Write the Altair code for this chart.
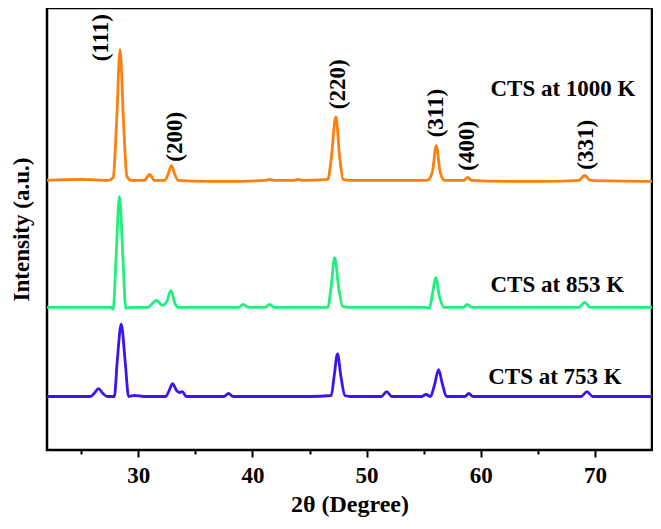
import altair as alt
import pandas as pd

# ---- data (2theta in degrees, relative intensity) ----
x_1000 = [22.0, 25.0, 27.4, 27.8, 28.1, 28.4, 28.7, 29.0, 29.4, 30.5, 31.0, 31.4, 32.3, 32.6, 32.9, 33.2, 33.5,
          36.0, 38.0, 41.1, 41.5, 41.9, 43.6, 44.0, 44.4, 46.6, 46.9, 47.3, 47.65, 47.95, 48.5, 52.0, 55.3, 55.75,
          56.1, 56.45, 56.85, 58.5, 58.85, 59.2, 62.0, 66.0, 68.6, 69.1, 69.6, 75.0]
i_1000 = [0, 1, 0, 3, 60, 132, 60, 4, 0, 0, 6, 0, 0, 6, 15, 6, 0,
          -1, -1, 0, 1, 0, 0, 1, 0, 1, 22, 64, 22, 1, 0, 0, 0, 8,
          35, 8, 0, 0, 3, 0, -1, -1, 0, 5, 0, -1]

x_853 = [22.0, 26.0, 27.6, 27.8, 28.05, 28.35, 28.65, 28.9, 29.3, 30.8, 31.6, 32.1, 32.5, 32.85, 33.2, 33.5,
         36.0, 38.8, 39.2, 39.6, 41.1, 41.5, 41.9, 44.0, 46.6, 46.9, 47.2, 47.55, 47.9, 48.5, 55.2, 55.5, 55.75,
         56.05, 56.4, 56.8, 58.5, 58.8, 59.2, 63.0, 68.6, 69.1, 69.6, 75.0]
i_853 = [0, 0, 0, -2, 50, 112, 50, -1, 0, 0, 7, 2, 6, 17, 4, 0,
         0, 0, 3, 0, 0, 3, 0, 0, 0, 22, 50, 20, 1, 0, 0, -1, 12,
         30, 10, 0, 0, 3, 0, 0, 0, 5, 0, 0]

x_753 = [22.0, 25.8, 26.2, 26.5, 26.9, 27.3, 27.9, 28.15, 28.5, 28.85, 29.15, 29.6, 30.5, 32.4, 32.7, 33.0, 33.35,
         33.6, 33.85, 34.2, 37.5, 37.9, 38.3, 45.0, 46.9, 47.15, 47.45, 47.75, 48.1, 48.6, 51.3, 51.75, 52.2,
         54.8, 55.2, 55.6, 55.95, 56.3, 56.65, 57.0, 58.6, 58.95, 59.3, 68.8, 69.3, 69.8, 75.0]
i_753 = [0, 0, 4, 8, 3, 0, 0, 35, 73, 35, 0, 1, 0, 0, 6, 13, 6,
         4, 5, 0, 0, 3, 0, 0, 1, 20, 43, 20, 1, 0, 0, 5, 0,
         0, 2, 0, 12, 27, 12, 0, 0, 3, 0, 0, 5, 0, 0]

samples = ["CTS at 1000 K", "CTS at 853 K", "CTS at 753 K"]
offsets = [272, 144, 54]
colors = ["#FF7F0E", "#1EF07A", "#3A14F2"]

# sample name label positions
name_x = [67.2, 66.7, 66.5]
name_y = [364, 166, 74]

# Miller index labels
hkl = ["(111)", "(200)", "(220)", "(311)", "(400)", "(331)"]
hkl_x = [26.75, 33.2, 47.45, 56.1, 58.8, 69.2]
hkl_y = [416, 316, 369, 340, 307, 308]

x_ticks = [25, 30, 35, 40, 45, 50, 55, 60, 65, 70]

# ---- build tables ----
rows = []
for name, off, xs, ys in zip(samples, offsets, [x_1000, x_853, x_753], [i_1000, i_853, i_753]):
    for k, (a, b) in enumerate(zip(xs, ys)):
        rows.append({"sample": name, "tt": a, "I": b + off, "order": k})
df = pd.DataFrame(rows)

names_df = pd.DataFrame({"label": samples, "x": name_x, "y": name_y})
hkl_df = pd.DataFrame({"label": hkl, "x": hkl_x, "y": hkl_y})

FONT = "'Liberation Serif', 'Times New Roman', Times, serif"

xscale = alt.Scale(domain=[22, 75], nice=False, zero=False)
yscale = alt.Scale(domain=[0, 446], nice=False, zero=False)

xaxis = alt.Axis(
    values=x_ticks,
    labelExpr="datum.value % 10 === 0 ? datum.label : ''",
    tickSize=alt.ExprRef(expr="datum.value % 10 === 0 ? 7 : 4"),
    tickWidth=2, tickColor="black", domain=False, grid=False,
    labelFont=FONT, labelFontWeight="bold", labelFontSize=23, labelColor="black", labelPadding=7,
    title="2θ (Degree)", titleFont=FONT, titleFontWeight="bold", titleFontSize=24, titleColor="black",
    titlePadding=5,
)
yaxis = alt.Axis(
    labels=False, ticks=False, domain=False, grid=False,
    title="Intensity (a.u.)", titleFont=FONT, titleFontWeight="bold", titleFontSize=23, titleColor="black",
    titlePadding=14,
)

lines = alt.Chart(df).mark_line(strokeWidth=2.8, interpolate="monotone").encode(
    x=alt.X("tt:Q", scale=xscale, axis=xaxis),
    y=alt.Y("I:Q", scale=yscale, axis=yaxis),
    color=alt.Color("sample:N", scale=alt.Scale(domain=samples, range=colors), legend=None),
    order="order:Q",
)

name_text = alt.Chart(names_df).mark_text(
    font=FONT, fontWeight="bold", fontSize=23, color="black", align="center", baseline="middle"
).encode(x=alt.X("x:Q", scale=xscale), y=alt.Y("y:Q", scale=yscale), text="label:N")

hkl_text = alt.Chart(hkl_df).mark_text(
    font=FONT, fontWeight="bold", fontSize=23, color="black", align="center", baseline="middle", angle=270
).encode(x=alt.X("x:Q", scale=xscale), y=alt.Y("y:Q", scale=yscale), text="label:N")

chart = alt.layer(lines, name_text, hkl_text).properties(
    width=605, height=442,
    autosize=alt.AutoSizeParams(type="none"),
    padding={"left": 39, "top": 0, "right": 1, "bottom": 71},
    background="white",
).configure_view(stroke="black", strokeWidth=2.5)

chart.save("out.html", embed_options={"renderer": "svg", "actions": False})
